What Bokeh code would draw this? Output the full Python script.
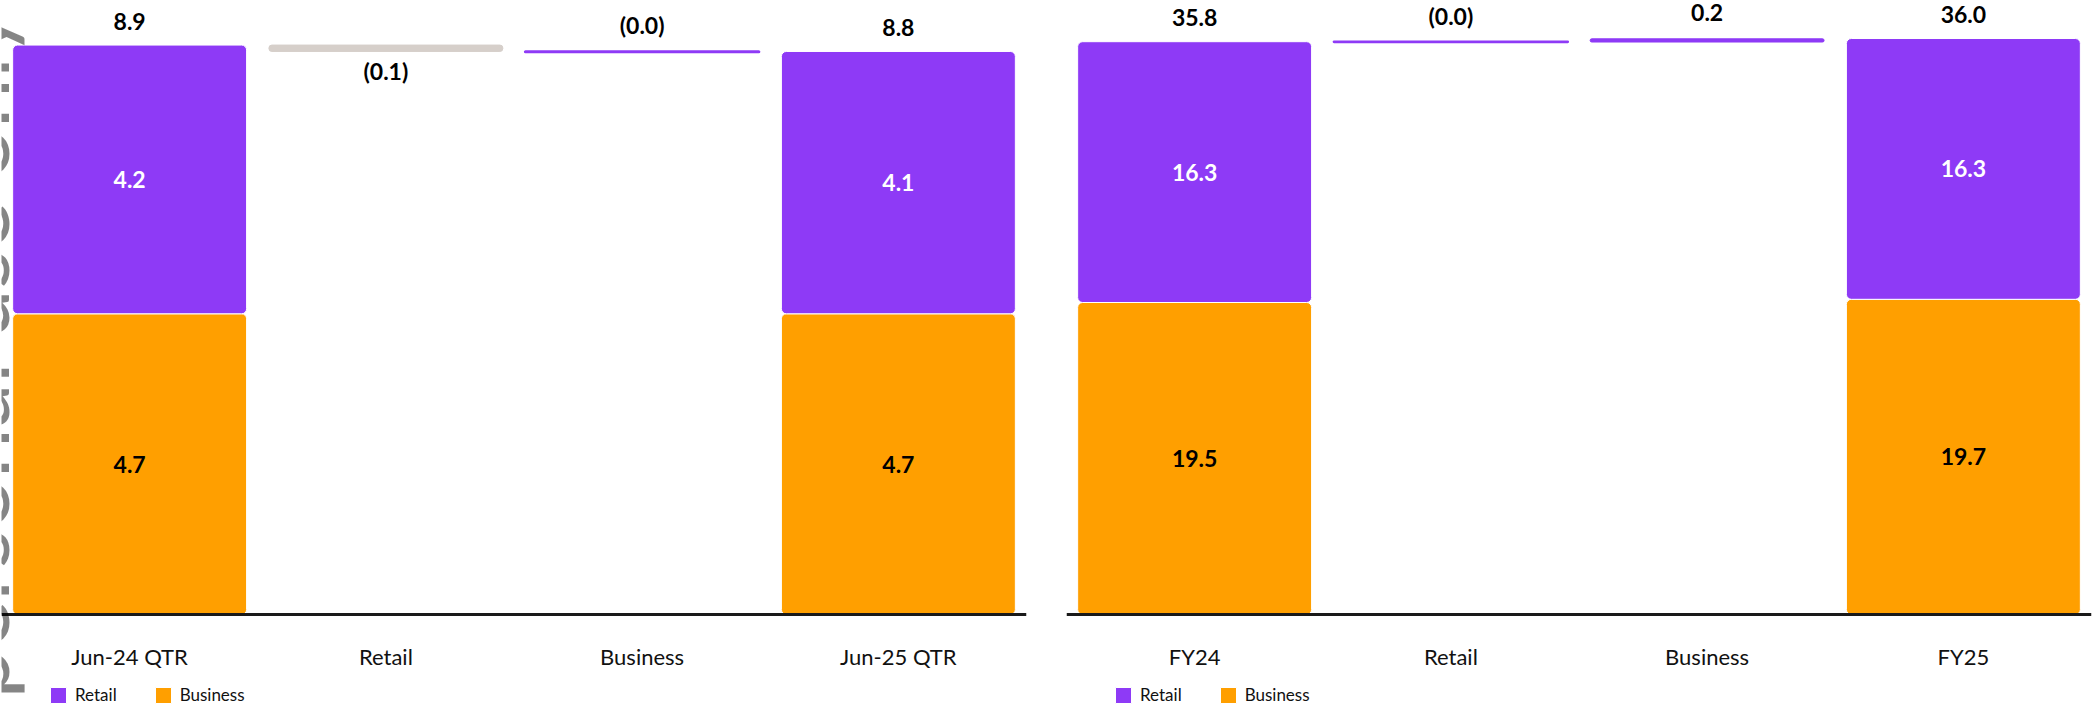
import math
from bokeh.plotting import figure
from bokeh.models import (ColumnDataSource, Legend, LegendItem, Label,
                          FactorRange, Range1d)
from bokeh.layouts import row
from bokeh.embed import file_html
from bokeh.resources import INLINE
from bokeh.core.properties import value

# ---------------- data ----------------
q_categories = ["Jun-24 QTR", "Retail", "Business", "Jun-25 QTR"]
q_periods = ["Jun-24 QTR", "Jun-25 QTR"]
q_business = [4.7, 4.7]
q_retail = [4.2, 4.1]
q_change_cats = ["Retail", "Business"]
q_changes = [-0.1, -0.01]

fy_categories = ["FY24", "Retail", "Business", "FY25"]
fy_periods = ["FY24", "FY25"]
fy_business = [19.5, 19.7]
fy_retail = [16.3, 16.3]
fy_change_cats = ["Retail", "Business"]
fy_changes = [-0.02, 0.2]

PURPLE = "#8E3AF6"
ORANGE = "#FF9F00"
GREY = "#D6CFCA"
FONT = "Lato"
BAR_W = 0.913
H = 705
BASE_PX = 614  # pixel row of the zero line


def fmt(v):
    r = round(v, 1)
    return f"({abs(r):.1f})" if v < 0 else f"{r:.1f}"


def make_panel(cats, periods, business, retail, change_cats, changes,
               px_per_unit, bl, br, watermark=False):
    y_end = BASE_PX / px_per_unit
    y_start = -(H - BASE_PX) / px_per_unit
    p = figure(x_range=FactorRange(*cats, range_padding=0),
               y_range=Range1d(y_start, y_end),
               width=bl + 1025 + br, height=H,
               output_backend="svg", toolbar_location=None,
               y_axis_location=None,
               min_border_top=0, min_border_left=bl, min_border_right=br,
               min_border_bottom=0, outline_line_color=None,
               background_fill_color="white", border_fill_color="white")
    p.grid.visible = False
    ax = p.xaxis[0]
    ax.fixed_location = 0
    ax.axis_line_width = 3
    ax.axis_line_color = "#1a1a1a"
    ax.major_tick_line_color = None
    ax.minor_tick_line_color = None
    ax.major_label_text_font = FONT
    ax.major_label_text_font_size = "22px"
    ax.major_label_text_color = "#111111"
    ax.major_label_standoff = 22

    totals = [b + r for b, r in zip(business, retail)]
    src = ColumnDataSource(dict(
        cat=periods, business=business, retail=retail,
        mid_b=[b / 2 for b in business],
        mid_r=[b + r / 2 for b, r in zip(business, retail)],
        lab_b=[f"{b:.1f}" for b in business],
        lab_r=[f"{r:.1f}" for r in retail],
        total=totals, lab_t=[f"{t:.1f}" for t in totals],
    ))
    rs = p.vbar_stack(["business", "retail"], x="cat", width=BAR_W,
                      color=[ORANGE, PURPLE], source=src,
                      line_color="white", line_width=1, border_radius=5)

    txt = dict(text_font=value(FONT), text_font_style="bold",
               text_font_size="23px", text_align="center",
               text_baseline="middle")
    p.text(x="cat", y="mid_r", text="lab_r", source=src,
           text_color="white", **txt)
    p.text(x="cat", y="mid_b", text="lab_b", source=src,
           text_color="black", **txt)
    p.text(x="cat", y="total", text="lab_t", source=src,
           text_color="black", y_offset=-24, **txt)

    # waterfall change bars
    level = totals[0]
    bottoms, tops, cols, lws = [], [], [], []
    up_y, down_y, up_t, down_t = [], [], [], []
    for c in changes:
        new = level + c
        bottoms.append(level)
        tops.append(new)
        neg = round(c, 1) < 0
        cols.append(GREY if neg else PURPLE)
        lws.append(2.5 if abs(c) < 0.05 else 1)
        if neg:
            down_y.append(min(level, new)); down_t.append(fmt(c))
            up_y.append(float("nan")); up_t.append("")
        else:
            up_y.append(max(level, new)); up_t.append(fmt(c))
            down_y.append(float("nan")); down_t.append("")
        level = new
    csrc = ColumnDataSource(dict(cat=change_cats, bottom=bottoms, top=tops,
                                 col=cols, lw=lws, up_y=up_y, down_y=down_y,
                                 up_t=up_t, down_t=down_t))
    p.vbar(x="cat", bottom="bottom", top="top", width=BAR_W, source=csrc,
           fill_color="col", line_color="col", line_width="lw",
           border_radius=3)
    p.text(x="cat", y="up_y", text="up_t", source=csrc,
           text_color="black", y_offset=-26, **txt)
    p.text(x="cat", y="down_y", text="down_t", source=csrc,
           text_color="black", y_offset=20, **txt)

    legend = Legend(items=[LegendItem(label="Retail", renderers=[rs[1]]),
                           LegendItem(label="Business", renderers=[rs[0]])],
                    orientation="horizontal", location=(47, 0),
                    margin=0, padding=0, spacing=36,
                    glyph_width=20, glyph_height=20, label_standoff=7,
                    label_text_font=FONT, label_text_font_size="17px",
                    label_text_color="#111111",
                    border_line_color=None, background_fill_alpha=0)
    p.add_layout(legend, "center")

    if watermark:
        p.add_layout(Label(x=-28, y=H - 8, x_units="screen", y_units="screen",
                           text="For personal use only", angle=math.pi / 2,
                           text_align="right", text_baseline="alphabetic",
                           text_font=FONT, text_font_size="90px",
                           text_color="black", text_alpha=0.48))
    return p


p1 = make_panel(q_categories, q_periods, q_business, q_retail,
                q_change_cats, q_changes, 63.98, 1, 20, watermark=True)
p2 = make_panel(fy_categories, fy_periods, fy_business, fy_retail,
                fy_change_cats, fy_changes, 16.0, 20, 7)

layout = row(p1, p2)
open("out.html", "w").write(file_html(layout, INLINE))
